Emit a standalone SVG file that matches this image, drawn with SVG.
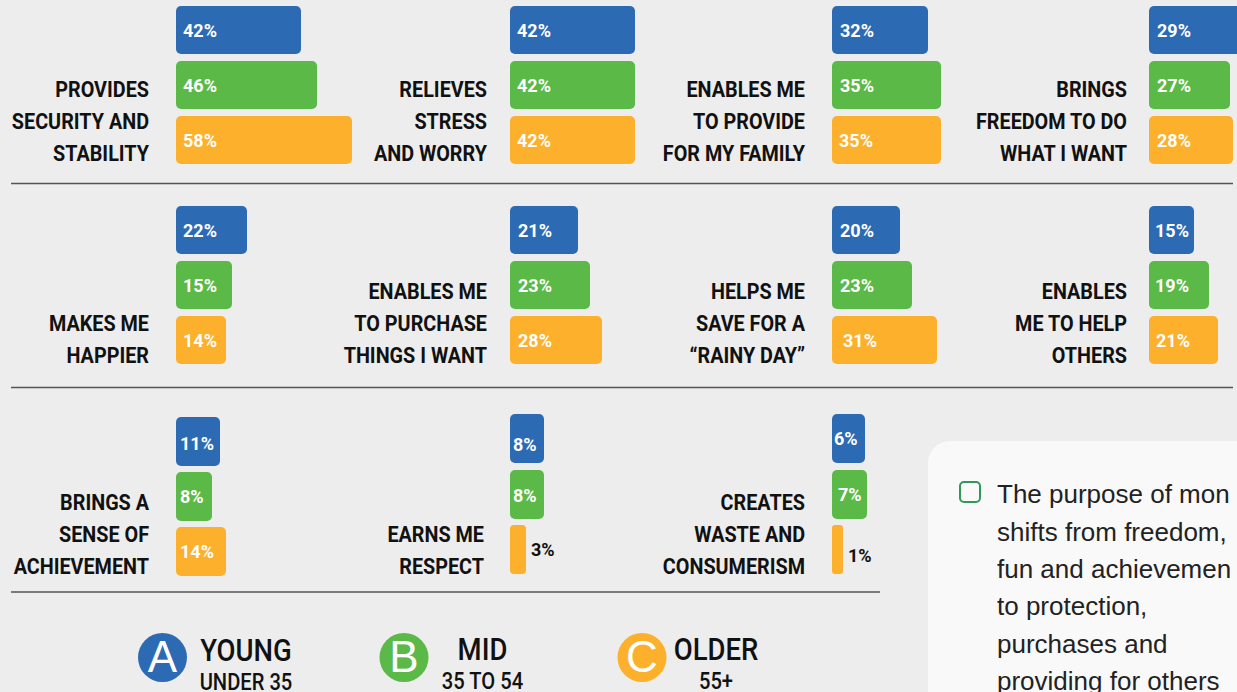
<svg xmlns="http://www.w3.org/2000/svg" width="1237" height="692" viewBox="0 0 1237 692">
<style>
.bg{fill:#ededed}
.b{fill:#2d6ab4}
.g{fill:#5bb947}
.o{fill:#fdb02b}
.pct{font-family:Roboto,"Liberation Sans",sans-serif;font-weight:bold;font-size:18px;fill:#fff}
.pd{font-family:Roboto,"Liberation Sans",sans-serif;font-weight:bold;font-size:18px;fill:#111}
.lbl{font-family:Roboto,"Liberation Sans",sans-serif;font-weight:bold;font-size:22px;fill:#111;text-anchor:end}
.sep{stroke:#555;stroke-width:1.3}
.lg{font-family:Roboto,"Liberation Sans",sans-serif;font-weight:500;font-size:32px;fill:#111;text-anchor:middle}
.lgs{font-family:Roboto,"Liberation Sans",sans-serif;font-weight:500;font-size:24px;fill:#111;text-anchor:middle}
.lc{font-family:"Liberation Sans",Arial,sans-serif;font-size:44px;fill:#fff;text-anchor:middle}
.ct{font-family:"Liberation Sans",Arial,sans-serif;font-size:26px;fill:#222}
</style>
<rect class="bg" x="0" y="0" width="1237" height="692"/>

<g id="separators">
<line class="sep" x1="11" y1="183.5" x2="1233" y2="183.5" stroke="#333"/>
<line class="sep" x1="11" y1="387.5" x2="1233" y2="387.5"/>
<line class="sep" x1="11" y1="592" x2="880" y2="592" stroke="#707070" stroke-width="2"/>
</g>

<!-- Row 1 -->
<g id="security">
<rect class="b" x="176" y="6" width="125" height="48" rx="5"/>
<rect class="g" x="176" y="61" width="141" height="48" rx="5"/>
<rect class="o" x="176" y="116" width="176" height="48" rx="5"/>
<text class="pct" x="183" y="37">42%</text>
<text class="pct" x="183" y="92">46%</text>
<text class="pct" x="183" y="147">58%</text>
<text class="lbl" transform="translate(149 97) scale(0.9 1)"><tspan x="0">PROVIDES</tspan><tspan x="0" dy="32">SECURITY AND</tspan><tspan x="0" dy="32">STABILITY</tspan></text>
</g>

<g id="stress">
<rect class="b" x="510" y="6" width="125" height="48" rx="5"/>
<rect class="g" x="510" y="61" width="125" height="48" rx="5"/>
<rect class="o" x="510" y="116" width="125" height="48" rx="5"/>
<text class="pct" x="517" y="37">42%</text>
<text class="pct" x="517" y="92">42%</text>
<text class="pct" x="517" y="147">42%</text>
<text class="lbl" transform="translate(487 97) scale(0.9 1)"><tspan x="0">RELIEVES</tspan><tspan x="0" dy="32">STRESS</tspan><tspan x="0" dy="32">AND WORRY</tspan></text>
</g>

<g id="family">
<rect class="b" x="832" y="6" width="96" height="48" rx="5"/>
<rect class="g" x="832" y="61" width="109" height="48" rx="5"/>
<rect class="o" x="832" y="116" width="109" height="48" rx="5"/>
<text class="pct" x="840" y="37">32%</text>
<text class="pct" x="840" y="92">35%</text>
<text class="pct" x="839" y="147">35%</text>
<text class="lbl" transform="translate(805 97) scale(0.9 1)"><tspan x="0">ENABLES ME</tspan><tspan x="0" dy="32">TO PROVIDE</tspan><tspan x="0" dy="32">FOR MY FAMILY</tspan></text>
</g>

<g id="freedom">
<rect class="b" x="1149" y="6" width="95" height="48" rx="5"/>
<rect class="g" x="1149" y="61" width="81" height="48" rx="5"/>
<rect class="o" x="1149" y="116" width="84" height="48" rx="5"/>
<text class="pct" x="1157" y="37">29%</text>
<text class="pct" x="1157" y="92">27%</text>
<text class="pct" x="1157" y="147">28%</text>
<text class="lbl" transform="translate(1127 97) scale(0.9 1)"><tspan x="0">BRINGS</tspan><tspan x="0" dy="32">FREEDOM TO DO</tspan><tspan x="0" dy="32">WHAT I WANT</tspan></text>
</g>

<!-- Row 2 -->
<g id="happier">
<rect class="b" x="176" y="206" width="71" height="48" rx="5"/>
<rect class="g" x="176" y="261" width="56" height="48" rx="5"/>
<rect class="o" x="176" y="316" width="50" height="48" rx="5"/>
<text class="pct" x="183" y="237">22%</text>
<text class="pct" x="183" y="292">15%</text>
<text class="pct" x="183" y="347">14%</text>
<text class="lbl" transform="translate(149 331) scale(0.9 1)"><tspan x="0">MAKES ME</tspan><tspan x="0" dy="32">HAPPIER</tspan></text>
</g>

<g id="purchase">
<rect class="b" x="510" y="206" width="68" height="48" rx="5"/>
<rect class="g" x="510" y="261" width="80" height="48" rx="5"/>
<rect class="o" x="510" y="316" width="92" height="48" rx="5"/>
<text class="pct" x="518" y="237">21%</text>
<text class="pct" x="518" y="292">23%</text>
<text class="pct" x="518" y="347">28%</text>
<text class="lbl" transform="translate(487 299) scale(0.9 1)"><tspan x="0">ENABLES ME</tspan><tspan x="0" dy="32">TO PURCHASE</tspan><tspan x="0" dy="32">THINGS I WANT</tspan></text>
</g>

<g id="rainy">
<rect class="b" x="832" y="206" width="68" height="48" rx="5"/>
<rect class="g" x="832" y="261" width="80" height="48" rx="5"/>
<rect class="o" x="832" y="316" width="105" height="48" rx="5"/>
<text class="pct" x="840" y="237">20%</text>
<text class="pct" x="840" y="292">23%</text>
<text class="pct" x="843" y="347">31%</text>
<text class="lbl" transform="translate(805 299) scale(0.9 1)"><tspan x="0">HELPS ME</tspan><tspan x="0" dy="32">SAVE FOR A</tspan><tspan x="0" dy="32">“RAINY DAY”</tspan></text>
</g>

<g id="others">
<rect class="b" x="1149" y="206" width="45" height="48" rx="5"/>
<rect class="g" x="1149" y="261" width="60" height="48" rx="5"/>
<rect class="o" x="1149" y="316" width="69" height="48" rx="5"/>
<text class="pct" x="1155" y="237">15%</text>
<text class="pct" x="1155" y="292">19%</text>
<text class="pct" x="1156" y="347">21%</text>
<text class="lbl" transform="translate(1127 299) scale(0.9 1)"><tspan x="0">ENABLES</tspan><tspan x="0" dy="32">ME TO HELP</tspan><tspan x="0" dy="32">OTHERS</tspan></text>
</g>

<!-- Row 3 -->
<g id="achievement">
<rect class="b" x="176" y="417" width="44" height="49" rx="5"/>
<rect class="g" x="176" y="472" width="36" height="49" rx="5"/>
<rect class="o" x="176" y="527" width="50" height="49" rx="5"/>
<text class="pct" x="180" y="450">11%</text>
<text class="pct" x="180" y="503">8%</text>
<text class="pct" x="180" y="558">14%</text>
<text class="lbl" transform="translate(149 510) scale(0.9 1)"><tspan x="0">BRINGS A</tspan><tspan x="0" dy="32">SENSE OF</tspan><tspan x="0" dy="32">ACHIEVEMENT</tspan></text>
</g>

<g id="respect">
<rect class="b" x="510" y="414" width="34" height="49" rx="5"/>
<rect class="g" x="510" y="470" width="34" height="49" rx="5"/>
<rect class="o" x="510" y="525" width="16" height="49" rx="4"/>
<text class="pct" x="513" y="451">8%</text>
<text class="pct" x="513" y="502">8%</text>
<text class="pd" x="531" y="556">3%</text>
<text class="lbl" transform="translate(484 542) scale(0.9 1)"><tspan x="0">EARNS ME</tspan><tspan x="0" dy="32">RESPECT</tspan></text>
</g>

<g id="waste">
<rect class="b" x="832" y="414" width="33" height="49" rx="5"/>
<rect class="g" x="832" y="470" width="35" height="49" rx="5"/>
<rect class="o" x="832" y="525" width="11" height="49" rx="3"/>
<text class="pct" x="834" y="445">6%</text>
<text class="pct" x="838" y="501">7%</text>
<text class="pd" x="848" y="562">1%</text>
<text class="lbl" transform="translate(805 510) scale(0.9 1)"><tspan x="0">CREATES</tspan><tspan x="0" dy="32">WASTE AND</tspan><tspan x="0" dy="32">CONSUMERISM</tspan></text>
</g>

<!-- Legend -->
<g id="legend-young">
<circle class="b" cx="162.5" cy="657.5" r="24.5"/>
<text class="lc" x="162.5" y="672">A</text>
<text class="lg" transform="translate(246 661) scale(0.86 1)">YOUNG</text>
<text class="lgs" transform="translate(246 690) scale(0.84 1)">UNDER 35</text>
</g>
<g id="legend-mid">
<circle class="g" cx="404" cy="657.5" r="24.5"/>
<text class="lc" x="404" y="672">B</text>
<text class="lg" transform="translate(482.5 660) scale(0.86 1)">MID</text>
<text class="lgs" transform="translate(482.5 689) scale(0.84 1)">35 TO 54</text>
</g>
<g id="legend-older">
<circle class="o" cx="642" cy="657.5" r="24.5"/>
<text class="lc" x="642" y="672">C</text>
<text class="lg" transform="translate(716 660) scale(0.86 1)">OLDER</text>
<text class="lgs" transform="translate(716 689) scale(0.84 1)">55+</text>
</g>

<!-- Callout -->
<g id="callout">
<rect x="928" y="441" width="340" height="300" rx="22" fill="#f9f9f9"/>
<rect x="960" y="482" width="20" height="20" rx="4" fill="none" stroke="#2f9a58" stroke-width="2"/>
<text class="ct" x="997" y="503">The purpose of mon</text>
<text class="ct" x="997" y="540.5">shifts from freedom,</text>
<text class="ct" x="997" y="578">fun and achievemen</text>
<text class="ct" x="997" y="615">to protection,</text>
<text class="ct" x="997" y="652.5">purchases and</text>
<text class="ct" x="997" y="690">providing for others</text>
</g>
</svg>
